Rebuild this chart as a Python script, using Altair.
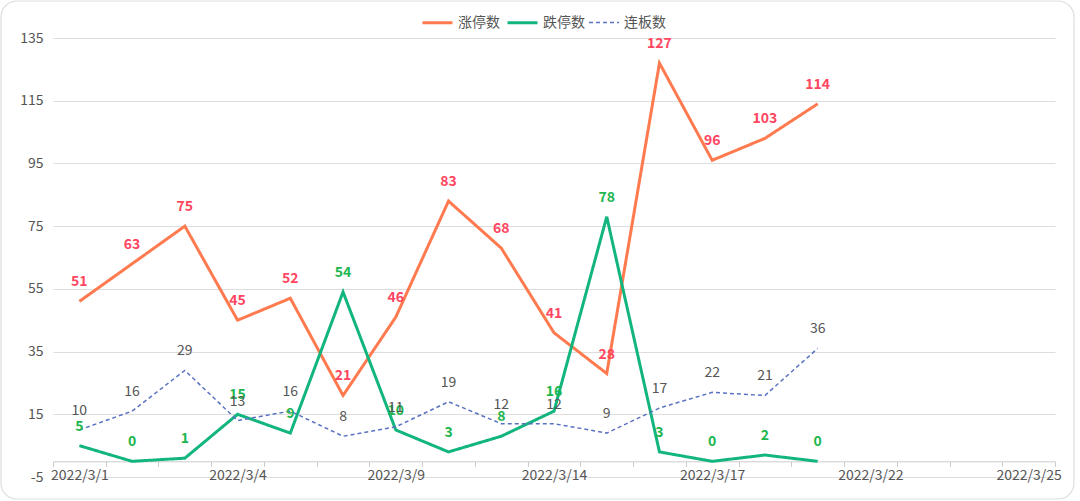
import altair as alt
import pandas as pd

dates = ["2022/3/1", "2022/3/2", "2022/3/3", "2022/3/4", "2022/3/7", "2022/3/8", "2022/3/9",
         "2022/3/10", "2022/3/11", "2022/3/14", "2022/3/15", "2022/3/16", "2022/3/17",
         "2022/3/18", "2022/3/21", "2022/3/22", "2022/3/23", "2022/3/24", "2022/3/25"]
shown_labels = ["2022/3/1", "2022/3/4", "2022/3/9", "2022/3/14", "2022/3/17", "2022/3/22", "2022/3/25"]

limit_up = [51, 63, 75, 45, 52, 21, 46, 83, 68, 41, 28, 127, 96, 103, 114]
limit_down = [5, 0, 1, 15, 9, 54, 10, 3, 8, 16, 78, 3, 0, 2, 0]
consecutive = [10, 16, 29, 13, 16, 8, 11, 19, 12, 12, 9, 17, 22, 21, 36]

series_names = ["涨停数", "跌停数", "连板数"]
line_colors = ["#FF7A4F", "#13B57F", "#5B72C2"]
label_colors = ["#FF4560", "#1DB64F", "#555555"]
y_ticks = [-5, 15, 35, 55, 75, 95, 115, 135]

rows = []
for name, vals in zip(series_names, [limit_up, limit_down, consecutive]):
    for d, v in zip(dates, vals):
        rows.append({"date": d, "value": v, "series": name})
df = pd.DataFrame(rows)

W, H = 1002, 439
FONT = "Noto Sans CJK SC"

x_enc = alt.X("date:N", sort=dates, bandPosition=0.5,
              scale=alt.Scale(type="band", domain=dates, paddingInner=0, paddingOuter=0),
              axis=alt.Axis(title=None, tickBand="extent", offset=-(5 * H / 140),
                            labelExpr="indexof(" + str(shown_labels) + ", datum.value) >= 0 ? datum.value : ''",
                            labelAngle=0, labelColor="#555555", labelFontSize=14, labelFont=FONT,
                            domainColor="#CCCCCC", tickColor="#CCCCCC", tickSize=5,
                            labelPadding=2, grid=False))
y_scale = alt.Scale(domain=[-5, 135], nice=False, zero=False)
y_enc = alt.Y("value:Q", scale=y_scale,
              axis=alt.Axis(title=None, values=y_ticks, labelColor="#555555", labelFontSize=14,
                            labelFont=FONT, labelPadding=10, domain=False, ticks=False,
                            labelExpr="'' + datum.value",
                            gridColor="#DDDDDD", gridWidth=1))

border = alt.Chart(pd.DataFrame({"a": [0]})).mark_rect(
    fillOpacity=0, stroke="#DDDDDD", strokeWidth=1.2, cornerRadius=16
).encode(x=alt.value(-52), x2=alt.value(1021), y=alt.value(-37), y2=alt.value(461))

def legend():
    return alt.Legend(title=None, orient="none", legendX=368, legendY=-32,
                      direction="horizontal", symbolType="stroke",
                      symbolSize=900, labelFontSize=14, labelFont=FONT,
                      labelColor="#555555", columnPadding=1, labelOffset=4)

lines = alt.Chart(df).mark_line().encode(
    x=x_enc,
    y=y_enc,
    color=alt.Color("series:N", sort=series_names,
                    scale=alt.Scale(domain=series_names, range=line_colors),
                    legend=legend()),
    strokeDash=alt.StrokeDash("series:N", sort=series_names,
                              scale=alt.Scale(domain=series_names, range=[[1, 0], [1, 0], [4, 3]]),
                              legend=legend()),
    strokeWidth=alt.StrokeWidth("series:N", sort=series_names,
                                scale=alt.Scale(type="ordinal", domain=series_names, range=[3, 3, 1.5]),
                                legend=legend()),
)

text_layers = []
for name, col in zip(series_names, label_colors):
    t = alt.Chart(df[df.series == name]).mark_text(
        dy=-19, fontSize=14, font=FONT, fontWeight="normal" if name == "连板数" else "bold",
        color=col
    ).encode(x=x_enc, y=y_enc, text="value:Q")
    text_layers.append(t)

chart = alt.layer(border, lines, *text_layers).properties(
    width=W, height=H,
    autosize=alt.AutoSizeParams(type="none"),
    padding={"left": 53, "top": 38, "right": 25, "bottom": 24},
    background="white",
).configure_view(stroke=None)

chart.save("out.html", embed_options={"renderer": "svg", "actions": False})
